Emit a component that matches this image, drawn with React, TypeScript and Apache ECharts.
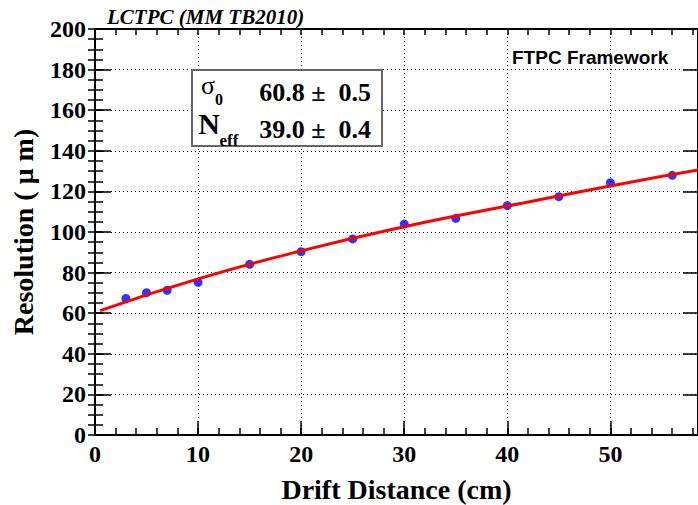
import React, { useEffect, useRef } from "react";
import * as echarts from "echarts";

const driftDistance = [3, 5, 7, 10, 15, 20, 25, 30, 35, 40, 45, 50, 56];
const resolution = [67.3, 70.1, 71.3, 75.2, 84.1, 90.3, 96.6, 103.9, 106.7, 113.0, 117.4, 124.3, 127.9];
const fitX = [0.5, 10, 20, 30, 40, 50, 58.5];
const fitY = [61.3, 76.9, 90.7, 102.6, 112.8, 122.7, 130.5];
const xTickLabels = ["0", "10", "20", "30", "40", "50"];
const yTickLabels = ["0", "20", "40", "60", "80", "100", "120", "140", "160", "180", "200"];

const SERIF = "'Liberation Serif', 'Times New Roman', serif";
const SANS = "'Liberation Sans', Arial, sans-serif";

export default function App() {
  const ref = useRef<HTMLDivElement>(null);
  useEffect(() => {
    if (!ref.current) return;
    const chart = echarts.init(ref.current, null, { renderer: "svg" });
    const X_MAX = 58.5;
    const dotted = { show: true, lineStyle: { color: "#000", width: 1, type: [1, 3] as any } };
    const line = { show: true, onZero: false, lineStyle: { color: "#000", width: 2 } };
    const labelStyle = { fontFamily: SERIF, fontWeight: "bold" as const, fontSize: 24, color: "#000" };
    chart.setOption({
      animation: false,
      backgroundColor: "#fff",
      grid: { left: 95, right: 0, top: 29, bottom: 70, containLabel: false, outerBoundsMode: "none" },
      xAxis: [
        {
          type: "value", min: 0, max: X_MAX, interval: 10, position: "bottom",
          axisLine: line,
          axisTick: { show: true, inside: true, length: 14, lineStyle: { color: "#000", width: 1.5 } },
          axisLabel: {
            ...labelStyle, margin: 7, showMaxLabel: false,
            formatter: (v: number) => (xTickLabels.includes(String(v)) ? String(v) : ""),
          },
          splitLine: dotted,
          name: "Drift Distance (cm)", nameLocation: "middle", nameGap: 41, nameMoveOverlap: false,
          nameTextStyle: { fontFamily: SERIF, fontWeight: "bold", fontSize: 28, color: "#000", lineHeight: 26 },
        },
        {
          type: "value", min: 0, max: X_MAX, interval: 2, position: "bottom",
          axisLine: { show: false }, axisLabel: { show: false }, splitLine: { show: false },
          axisTick: { show: true, inside: true, length: 7, lineStyle: { color: "#000", width: 1.5 } },
        },
        {
          type: "value", min: 0, max: X_MAX, interval: 2, position: "top",
          axisLine: line, axisLabel: { show: false }, splitLine: { show: false },
          axisTick: { show: true, inside: true, length: 6, lineStyle: { color: "#000", width: 1.5 } },
        },
      ],
      yAxis: [
        {
          type: "value", min: 0, max: 200, interval: 20, position: "left",
          axisLine: line,
          axisTick: { show: true, inside: true, length: 16, lineStyle: { color: "#000", width: 1.5 } },
          axisLabel: {
            ...labelStyle, margin: 9,
            formatter: (v: number) => (yTickLabels.includes(String(v)) ? String(v) : ""),
          },
          splitLine: dotted,
          name: "Resolution ( \u03bc m)", nameLocation: "middle", nameGap: 58, nameRotate: 90, nameMoveOverlap: false,
          nameTextStyle: { fontFamily: SERIF, fontWeight: "bold", fontSize: 28, color: "#000" },
        },
        {
          type: "value", min: 0, max: 200, interval: 5, position: "left",
          axisLine: { show: false }, axisLabel: { show: false }, splitLine: { show: false },
          axisTick: { show: true, inside: true, length: 8, lineStyle: { color: "#000", width: 1.5 } },
        },
        {
          type: "value", min: 0, max: 200, interval: 20, position: "right",
          axisLine: line, axisLabel: { show: false }, splitLine: { show: false },
          axisTick: { show: true, inside: true, length: 15, lineStyle: { color: "#000", width: 1.5 } },
        },
        {
          type: "value", min: 0, max: 200, interval: 5, position: "right",
          axisLine: { show: false }, axisLabel: { show: false }, splitLine: { show: false },
          axisTick: { show: true, inside: true, length: 7, lineStyle: { color: "#000", width: 1.5 } },
        },
      ],
      series: [
        {
          type: "line", name: "fit", xAxisIndex: 0, yAxisIndex: 0,
          data: fitX.map((x, i) => [x, fitY[i]]),
          smooth: true, showSymbol: false, symbol: "none",
          lineStyle: { color: "#ff0000", width: 3 }, z: 3,
        },
        {
          type: "scatter", name: "data", xAxisIndex: 0, yAxisIndex: 0,
          data: driftDistance.map((x, i) => [x, resolution[i]]),
          symbol: "circle", symbolSize: 9,
          itemStyle: { color: "#0000ff" }, z: 2,
        },
      ],
      graphic: [
        {
          type: "text", x: 107, y: 17,
          style: { text: "LCTPC (MM TB2010)", font: `italic bold 21px ${SERIF}`, fill: "#000", textAlign: "left", textVerticalAlign: "middle" },
        },
        {
          type: "text", x: 512, y: 57,
          style: { text: "FTPC Framework", font: `bold 19px ${SANS}`, fill: "#000", textAlign: "left", textVerticalAlign: "middle" },
        },
        {
          type: "rect", shape: { x: 192, y: 70, width: 190, height: 76 },
          style: { fill: "#fff", stroke: "#666", lineWidth: 2 }, z: 10,
        },
        {
          type: "text", x: 208, y: 85, z: 11,
          style: { text: "\u03c3", font: `26px ${SERIF}`, fill: "#000", textAlign: "center", textVerticalAlign: "middle" },
        },
        {
          type: "text", x: 371, y: 92, z: 11,
          style: { text: "60.8 \u00b1  0.5", font: `bold 26px ${SERIF}`, fill: "#000", textAlign: "right", textVerticalAlign: "middle" },
        },
        {
          type: "text", x: 209, y: 123, z: 11,
          style: { text: "N", font: `bold 30px ${SERIF}`, fill: "#000", textAlign: "center", textVerticalAlign: "middle" },
        },
        {
          type: "text", x: 219, y: 99, z: 11,
          style: { text: "0", font: `bold 16px ${SERIF}`, fill: "#000", textAlign: "center", textVerticalAlign: "middle" },
        },
        {
          type: "text", x: 229, y: 140, z: 11,
          style: { text: "eff", font: `bold 17px ${SERIF}`, fill: "#000", textAlign: "center", textVerticalAlign: "middle" },
        },
        {
          type: "text", x: 371, y: 129, z: 11,
          style: { text: "39.0 \u00b1  0.4", font: `bold 26px ${SERIF}`, fill: "#000", textAlign: "right", textVerticalAlign: "middle" },
        },
      ],
    });
    return () => chart.dispose();
  }, []);
  return <div ref={ref} style={{ width: 698, height: 505, position: "absolute", left: 0, top: 0 }} />;
}
